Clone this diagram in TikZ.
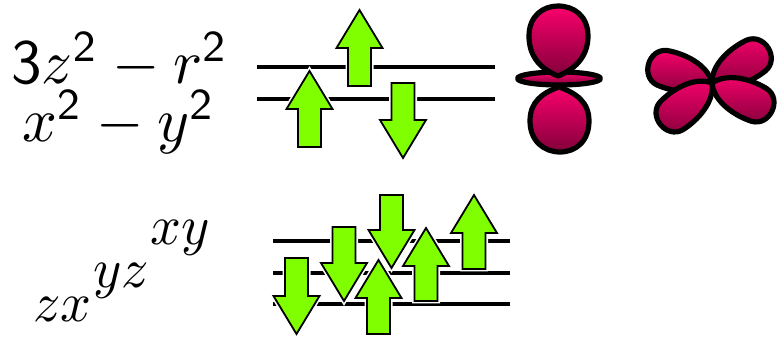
\documentclass[tikz,border=0pt]{standalone}
\usepackage{graphicx}

\definecolor{spin}{RGB}{128,255,0}
\definecolor{lobetop}{RGB}{250,0,108}
\definecolor{lobebot}{RGB}{130,0,58}

\tikzset{
  level/.style={line width=4.5pt},
  spinarrow/.style={fill=spin, draw=black, line width=1.8pt, line join=miter,
    preaction={draw=white, line width=5pt}},
  lobe/.style={draw=black, line width=5.2pt, line join=round,
    top color=lobetop, bottom color=lobebot},
  orbital/.style={inner sep=0pt, anchor=base west}
}

% spin arrows: centre x, tip y, tail y
\newcommand\upspin[3]{%
  \path[spinarrow] (#1-11.5,#3) -- (#1-11.5,#2+38) -- (#1-23,#2+38) -- (#1,#2)
    -- (#1+23,#2+38) -- (#1+11.5,#2+38) -- (#1+11.5,#3) -- cycle;}
\newcommand\downspin[3]{%
  \path[spinarrow] (#1-11.5,#3) -- (#1-11.5,#2-38) -- (#1-23,#2-38) -- (#1,#2)
    -- (#1+23,#2-38) -- (#1+11.5,#2-38) -- (#1+11.5,#3) -- cycle;}

% one lobe of the cloverleaf, pointing along +x from the origin
\newcommand\cloverlobe{%
  (0,0) .. controls (10,-17) and (36,-20) .. (52,-18)
        .. controls (71,-15) and (71,15) .. (52,18)
        .. controls (36,20) and (10,17) .. (0,0) -- cycle}

\begin{document}
\begin{tikzpicture}[x=1pt,y=-1pt]
\useasboundingbox (0,0) rectangle (780,339);

% ---- e_g labels
\node[orbital] (eg1) at (11,84) {\scalebox{6.1}[6.3]{$\mathsf{3}z^{\mathsf{2}}-r^{\mathsf{2}}$}};
\node[orbital] (eg2) at (22,142) {\scalebox{6.1}[6.3]{$x^{\mathsf{2}}-y^{\mathsf{2}}$}};

% ---- t_2g labels
\node[orbital] (t1) at (33,322) {\scalebox{5.4}[5.6]{$zx$}};
\node[orbital] (t2) at (93,288) {\scalebox{5.4}[5.6]{$yz$}};
\node[orbital] (t3) at (150,245) {\scalebox{5.4}[5.6]{$xy$}};

% ---- e_g levels and spins
\coordinate (egA1) at (257,67);  \coordinate (egA2) at (495,67);
\coordinate (egB1) at (257,99);  \coordinate (egB2) at (495,99);
\draw[level] (egA1) -- (egA2);
\draw[level] (egB1) -- (egB2);
\upspin{309.5}{71}{147}
\upspin{359.5}{10}{86}
\downspin{403}{158}{83}

% ---- t_2g levels and spins
\coordinate (tA1) at (273,241); \coordinate (tA2) at (510,241);
\coordinate (tB1) at (273,273); \coordinate (tB2) at (510,273);
\coordinate (tC1) at (273,304); \coordinate (tC2) at (510,304);
\draw[level] (tA1) -- (tA2);
\draw[level] (tB1) -- (tB2);
\draw[level] (tC1) -- (tC2);
\downspin{296.5}{334}{258}
\downspin{344}{301}{227}
\downspin{391.5}{268}{195}
\upspin{378.5}{260}{334}
\upspin{426}{228}{301}
\upspin{474}{195}{269}

% ---- d_{3z^2-r^2} orbital
\path[lobe] (559,87) .. controls (542,93) and (530,102) .. (530,121)
  .. controls (530,141) and (544,152) .. (560,152)
  .. controls (576,152) and (589,141) .. (589,121)
  .. controls (589,102) and (576,93) .. (559,87) -- cycle;
\path[lobe] (559,78.5) ellipse [x radius=41.5, y radius=6.5];
\path[lobe] (558,76) .. controls (538,68) and (529,54) .. (529,36)
  .. controls (529,16) and (543,6) .. (558,6)
  .. controls (574,6) and (588,16) .. (588,36)
  .. controls (588,54) and (578,68) .. (558,76) -- cycle;

% ---- d_{x^2-y^2} orbital
\begin{scope}[shift={(712,83)}]
  \path[lobe, rotate=163] \cloverlobe;
  \path[lobe, rotate=32] \cloverlobe;
  \path[lobe, rotate=219] \cloverlobe;
  \path[lobe, rotate=-25] \cloverlobe;
\end{scope}
\end{tikzpicture}
\end{document}
